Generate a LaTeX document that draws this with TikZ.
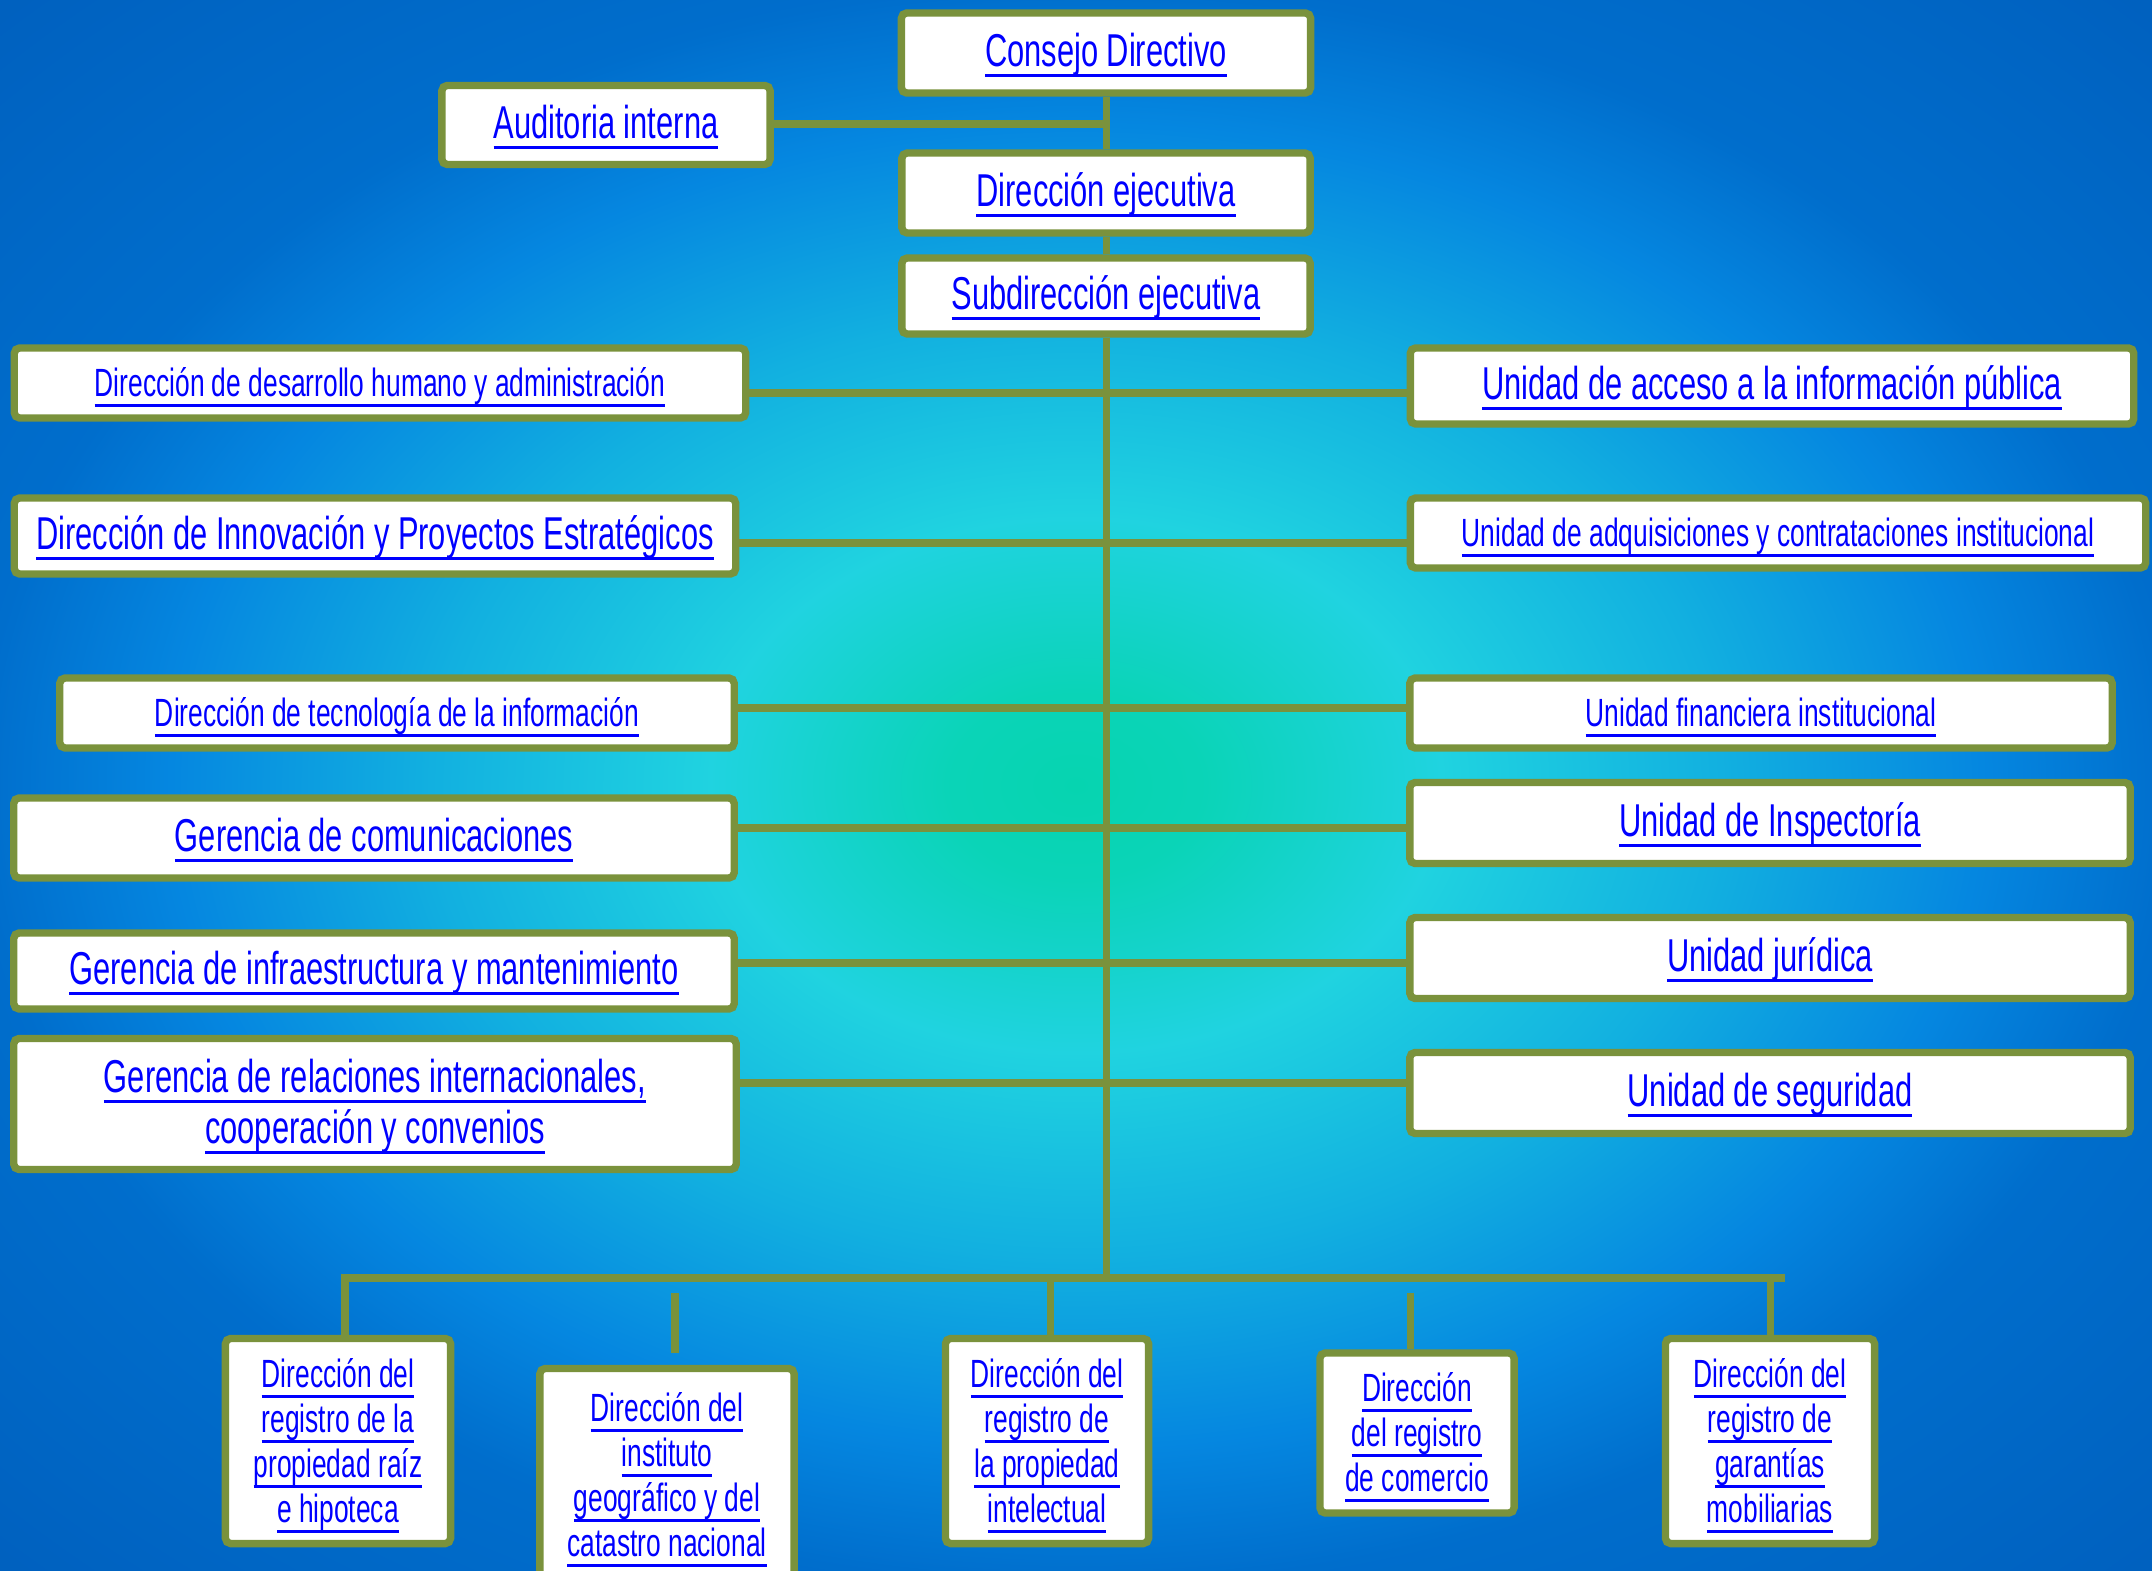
\documentclass[tikz,border=0pt]{standalone}
\usepackage{fontspec}
\setmainfont{Liberation Sans}[FakeStretch=0.67]
\definecolor{orgline}{RGB}{122,146,60}
\definecolor{linkblue}{RGB}{0,0,255}
\pgfdeclareradialshading{bgglow}{\pgfpoint{0bp}{0bp}}{rgb(0bp)=(0.024,0.831,0.69); rgb(3bp)=(0.04,0.83,0.72); rgb(8.5bp)=(0.125,0.827,0.878); rgb(15bp)=(0.07,0.69,0.88); rgb(21bp)=(0.02,0.53,0.88); rgb(25.5bp)=(0,0.43,0.8); rgb(35bp)=(0,0.38,0.75); rgb(50bp)=(0,0.38,0.75)}
\newsavebox{\lnkbox}
\newcommand{\lnk}[1]{\sbox{\lnkbox}{#1}\rlap{\rule[-3.1pt]{\wd\lnkbox}{0.9pt}}\smash{\usebox{\lnkbox}}\rule[-3.1pt]{0pt}{13.9pt}}
\lineskiplimit=-\maxdimen
\tikzset{
  unit/.style={draw=orgline,line width=2.1pt,fill=white,rounded corners=1.5pt,inner sep=0pt,align=center,text=linkblue},
  bigtxt/.style={font=\fontsize{13.1}{14.5}\selectfont},
  smalltxt/.style={font=\fontsize{11.2}{12.8}\selectfont},
  conn/.style={draw=orgline,line width=2pt}
}
\begin{document}
\begin{tikzpicture}[x=.01cm,y=-.01cm]
	\useasboundingbox (0,0) rectangle (2152,1571);
	\clip (0,0) rectangle (2152,1571);
	\shade[shading=bgglow] (0,0) rectangle (2152,1571);
	% cabeza
	\node[unit,bigtxt,minimum width=4.09cm,minimum height=.80cm] (cd) at (1106,53) {\lnk{Consejo Directivo}};
	\node[unit,bigtxt,minimum width=3.28cm,minimum height=.79cm] (ai) at (606,125) {\lnk{Auditoria interna}};
	\node[unit,bigtxt,minimum width=4.08cm,minimum height=.80cm] (de) at (1106,193) {\lnk{Dirección ejecutiva}};
	\node[unit,bigtxt,minimum width=4.08cm,minimum height=.76cm] (sd) at (1106,296) {\lnk{Subdirección ejecutiva}};
	% izquierda
	\node[unit,smalltxt,minimum width=7.31cm,minimum height=.70cm] (l1) at (380,383) {\lnk{Dirección de desarrollo humano y administración}};
	\node[unit,bigtxt,minimum width=7.21cm,minimum height=.76cm] (l2) at (375,536) {\lnk{Dirección de Innovación y Proyectos Estratégicos}};
	\node[unit,smalltxt,minimum width=6.74cm,minimum height=.70cm] (l3) at (397,713) {\lnk{Dirección de tecnología de la información}};
	\node[unit,bigtxt,minimum width=7.20cm,minimum height=.80cm] (l4) at (374,838) {\lnk{Gerencia de comunicaciones}};
	\node[unit,bigtxt,minimum width=7.20cm,minimum height=.76cm] (l5) at (374,971) {\lnk{Gerencia de infraestructura y mantenimiento}};
	\node[unit,bigtxt,minimum width=7.22cm,minimum height=1.31cm] (l6) at (375,1104) {\lnk{Gerencia de relaciones internacionales,}\\\lnk{cooperación y convenios}};
	% derecha
	\node[unit,bigtxt,minimum width=7.23cm,minimum height=.76cm] (r1) at (1772,386) {\lnk{Unidad de acceso a la información pública}};
	\node[unit,smalltxt,minimum width=7.35cm,minimum height=.70cm] (r2) at (1778,533) {\lnk{Unidad de adquisiciones y contrataciones institucional}};
	\node[unit,smalltxt,minimum width=7.02cm,minimum height=.70cm] (r3) at (1761,713) {\lnk{Unidad financiera institucional}};
	\node[unit,bigtxt,minimum width=7.20cm,minimum height=.81cm] (r4) at (1770,823) {\lnk{Unidad de Inspectoría}};
	\node[unit,bigtxt,minimum width=7.20cm,minimum height=.81cm] (r5) at (1770,958) {\lnk{Unidad jurídica}};
	\node[unit,bigtxt,minimum width=7.20cm,minimum height=.81cm] (r6) at (1770,1093) {\lnk{Unidad de seguridad}};
	% abajo
	\node[unit,smalltxt,minimum width=2.25cm,minimum height=2.05cm] (b1) at (338,1441) {\lnk{Dirección del}\\\lnk{registro de la}\\\lnk{propiedad raíz}\\\lnk{e hipoteca}};
	\node[unit,smalltxt,minimum width=2.54cm,minimum height=2.13cm] (b2) at (667,1475) {\lnk{Dirección del}\\\lnk{instituto}\\\lnk{geográfico y del}\\\lnk{catastro nacional}};
	\node[unit,smalltxt,minimum width=2.03cm,minimum height=2.05cm] (b3) at (1047,1441) {\lnk{Dirección del}\\\lnk{registro de}\\\lnk{la propiedad}\\\lnk{intelectual}};
	\node[unit,smalltxt,minimum width=1.94cm,minimum height=1.60cm] (b4) at (1417,1433) {\lnk{Dirección}\\\lnk{del registro}\\\lnk{de comercio}};
	\node[unit,smalltxt,minimum width=2.09cm,minimum height=2.05cm] (b5) at (1770,1441) {\lnk{Dirección del}\\\lnk{registro de}\\\lnk{garantías}\\\lnk{mobiliarias}};
	% lineas
	\path (1106,124) coordinate (j)
	(1106,393) coordinate (t1) (1106,543) coordinate (t2) (1106,708) coordinate (t3)
	(1106,828) coordinate (t4) (1106,963) coordinate (t5) (1106,1083) coordinate (t6)
	(1106,1278) coordinate (bus) (1785,1278) coordinate (busend)
	(345,1278) coordinate (k1) (1050,1278) coordinate (k3) (1770,1278) coordinate (k5)
	(675,1293) coordinate (s2) (1410,1293) coordinate (s4);
	\draw[conn] (cd) -- (de) -- (sd) -- (bus);
	\draw[conn] (ai.east |- j) -- (j);
	\foreach \i in {1,...,6} \draw[conn] (l\i.east |- t\i) -- (r\i.west |- t\i);
	\draw[conn] (k1 |- b1.north) -- (k1) -- (busend);
	\foreach \i in {3,5} \draw[conn] (k\i) -- (k\i |- b\i.north);
	\draw[conn] (s2) -- ++(0,60);
	\draw[conn] (s4) -- (s4 |- b4.north);
\end{tikzpicture}
\end{document}
